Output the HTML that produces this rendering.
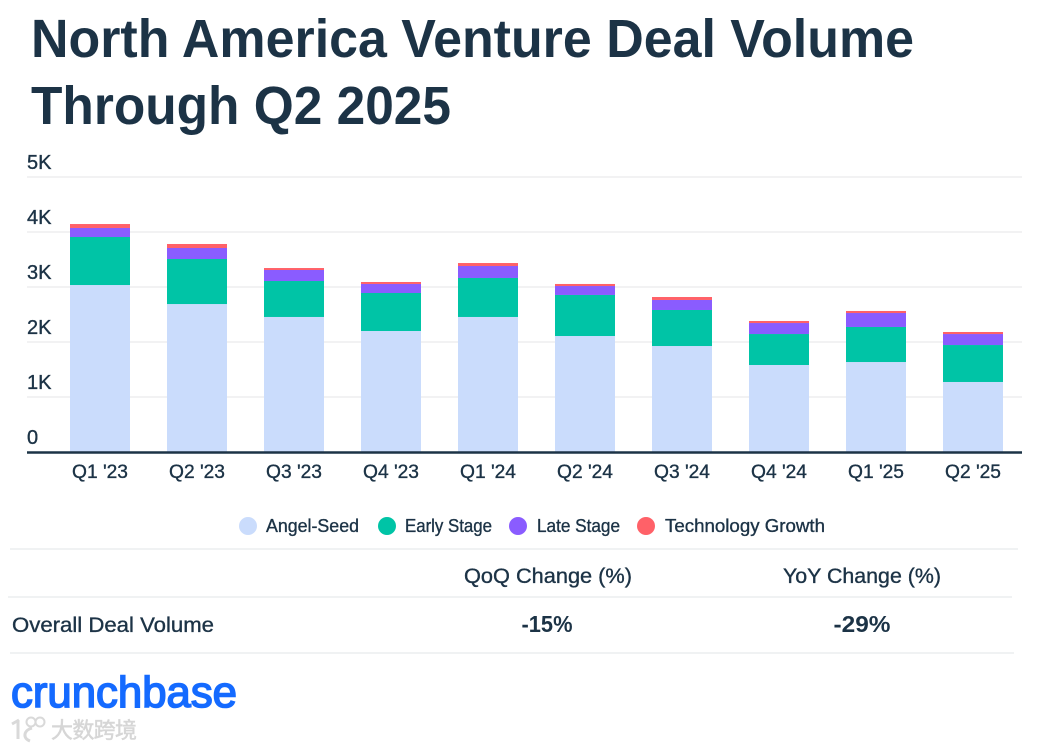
<!DOCTYPE html>
<html lang="en">
<head>
<meta charset="utf-8">
<title>North America Venture Deal Volume Through Q2 2025</title>
<style>
html,body{margin:0;padding:0;background:#fff;width:1046px;height:749px;overflow:hidden}
svg{display:block}
text{font-family:"Liberation Sans","Noto Sans CJK SC",sans-serif;fill:#1c3346}
.medium{stroke:#1c3346;stroke-width:0.35px}
</style>
</head>
<body>
<svg id="chart" width="1046" height="749" viewBox="0 0 1046 749" xmlns="http://www.w3.org/2000/svg">
  <rect width="1046" height="749" fill="#fff"/>
  <text x="31" y="57" font-size="54" font-weight="700" textLength="883" lengthAdjust="spacingAndGlyphs">North America Venture Deal Volume</text>
  <text x="31" y="124" font-size="54" font-weight="700" textLength="420" lengthAdjust="spacingAndGlyphs">Through Q2 2025</text>
  <g id="grid"></g>
  <g id="yLabels"></g>
  <g id="bars"></g>
  <line x1="27" x2="1022" y1="452.5" y2="452.5" stroke="#1c3346" stroke-width="2.5"/>
  <g id="xLabels"></g>
  <g id="legend"></g>

  <line x1="10" x2="1018" y1="549" y2="549" stroke="#eceeef" stroke-width="1.5"/>
  <text class="medium" x="548" y="583" font-size="21" text-anchor="middle" textLength="168" lengthAdjust="spacingAndGlyphs">QoQ Change (%)</text>
  <text class="medium" x="862" y="583" font-size="21" text-anchor="middle" textLength="158" lengthAdjust="spacingAndGlyphs">YoY Change (%)</text>
  <line x1="8" x2="1012" y1="597" y2="597" stroke="#eceeef" stroke-width="1.5"/>
  <text class="medium" x="12" y="632" font-size="21" textLength="202" lengthAdjust="spacingAndGlyphs">Overall Deal Volume</text>
  <text x="547" y="632" font-size="23" font-weight="700" text-anchor="middle" textLength="51" lengthAdjust="spacingAndGlyphs">-15%</text>
  <text x="862" y="632" font-size="23" font-weight="700" text-anchor="middle" textLength="57" lengthAdjust="spacingAndGlyphs">-29%</text>
  <line x1="10" x2="1014" y1="653" y2="653" stroke="#eceeef" stroke-width="1.5"/>

  <text x="11" y="707" font-size="44" textLength="226" lengthAdjust="spacingAndGlyphs" style="fill:#146aff;stroke:#146aff;stroke-width:1.6px">crunchbase</text>

  <g opacity="0.9">
    <circle cx="31" cy="722" r="4.5" fill="none" stroke="#d5d5d5" stroke-width="2"/>
    <circle cx="40" cy="722" r="4.5" fill="none" stroke="#d5d5d5" stroke-width="2"/>
    <path d="M12 724 L19 720 M18 720 V739 M32 728 C24 730 22 738 30 741" fill="none" stroke="#d5d5d5" stroke-width="3"/>
    <text x="51" y="738" font-size="22" textLength="86" style="fill:#d2d2d2;stroke:#d2d2d2;stroke-width:0.5px">大数跨境</text>
  </g>
</svg>
<script>
const categories = ["Q1 '23","Q2 '23","Q3 '23","Q4 '23","Q1 '24","Q2 '24","Q3 '24","Q4 '24","Q1 '25","Q2 '25"];
const angelSeed = [3036,2690,2455,2200,2455,2109,1927,1582,1636,1273];
const earlyStage = [873,819,654,691,709,746,655,563,637,672];
const lateStage = [164,200,200,164,218,163,182,200,254,200];
const technologyGrowth = [72,73,36,36,54,37,54,37,37,37];
const tickValues = [0,1000,2000,3000,4000,5000];
const tickLabels = ["0","1K","2K","3K","4K","5K"];
const seriesNames = ["Angel-Seed","Early Stage","Late Stage","Technology Growth"];

const NS = "http://www.w3.org/2000/svg";
const seriesValues = [angelSeed, earlyStage, lateStage, technologyGrowth];
const seriesColors = ["#cadcfc","#00c4a6","#8a5cff","#ff6168"];
const legendX = [248,387,518,646];
const legendTextX = [266,405,537,665];
const legendTextW = [93,87,83,160];

function yScale(v){ return 452 - v * 55 / 1000; }
function xCenter(i){ return 100 + i * 97; }
function make(tag, attrs, parent){
  const el = document.createElementNS(NS, tag);
  for (const k in attrs) el.setAttribute(k, attrs[k]);
  parent.appendChild(el);
  return el;
}
const grid = document.getElementById("grid");
const yLabels = document.getElementById("yLabels");
const bars = document.getElementById("bars");
const xLabels = document.getElementById("xLabels");
const legend = document.getElementById("legend");

tickValues.forEach(function(t, i){
  if (t > 0) {
    const line = make("line", {x1:27, x2:1022, y1:yScale(t), y2:yScale(t), stroke:"#e9ebec", "stroke-width":1.2}, grid);
    
    
  }
  const label = make("text", {x:27, y:yScale(t) - 8, "font-size":20, class:"medium"}, yLabels);
  label.textContent = tickLabels[i];
  
  
});

categories.forEach(function(c, i){
  let base = 0;
  seriesValues.forEach(function(vals, s){
    const top = base + vals[i];
    const rect = make("rect", {x:xCenter(i) - 30, y:yScale(top), width:60, height:yScale(base) - yScale(top), fill:seriesColors[s]}, bars);
    
    
    base = top;
  });
  const label = make("text", {x:xCenter(i), y:478, "font-size":19, "text-anchor":"middle", textLength:56, lengthAdjust:"spacingAndGlyphs", class:"medium"}, xLabels);
  label.textContent = c;
  
  
});

seriesNames.forEach(function(n, s){
  const dot = make("circle", {cx:legendX[s], cy:526, r:9, fill:seriesColors[s]}, legend);
  
  
  const label = make("text", {x:legendTextX[s], y:532, "font-size":18, textLength:legendTextW[s], lengthAdjust:"spacingAndGlyphs", class:"medium"}, legend);
  label.textContent = n;
  
  
});
</script>
</body>
</html>
